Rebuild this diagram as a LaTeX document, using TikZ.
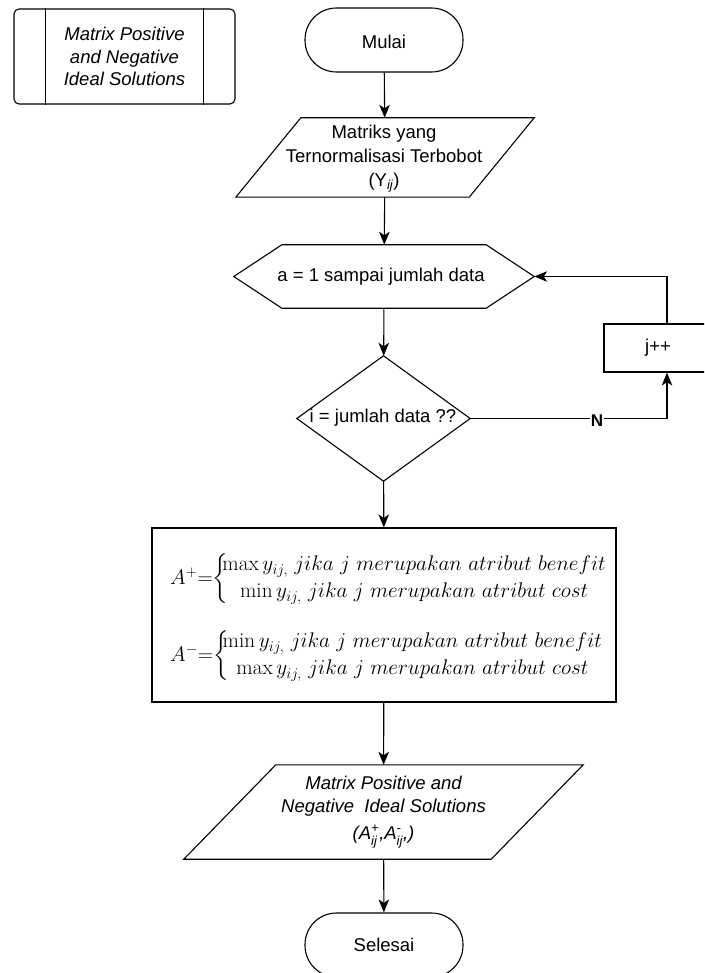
\RequirePackage{fix-cm}
\documentclass[tikz,border=0pt]{standalone}
\usepackage{amsmath}
\usepackage{fontspec}
\newfontfamily\lsans{Liberation Sans}
\usetikzlibrary{arrows.meta}
\begin{document}
\begin{tikzpicture}[x=1pt,y=-1pt,
  txt/.style={font=\lsans\fontsize{18.5pt}{24pt}\selectfont, align=center, inner sep=0pt, text=black},
  itxt/.style={font=\lsans\itshape\fontsize{18.5pt}{22.5pt}\selectfont, align=center, inner sep=0pt, text=black},
  shp/.style={line width=1.1pt, draw=black},
  arr/.style={line width=1.1pt, draw=black, -{Stealth[length=13pt,width=10.5pt,inset=3.5pt]}},
  mth/.style={inner sep=0pt, anchor=west, font=\fontsize{21.2pt}{24pt}\selectfont}
]
\clip (0,0) rectangle (704,973);
\fill[white] (0,0) rectangle (704,973);
\renewcommand\arraystretch{1.12}

% predefined process box (legend)
\node[shp, itxt, rounded corners=5pt, minimum width=221pt, minimum height=95pt] (sub) at (124.5,56.5) {Matrix Positive\\and Negative\\Ideal Solutions};
\draw[shp] ([xshift=32pt]sub.north west) -- ([xshift=32pt]sub.south west);
\draw[shp] ([xshift=-32pt]sub.north east) -- ([xshift=-32pt]sub.south east);

% start
\node[shp, txt, rounded corners=31.5pt, minimum width=158pt, minimum height=64pt] (start) at (384,40) {};
\node[txt] (startlbl) at (384,41.5) {Mulai};

% input parallelogram
\node[txt, minimum width=298pt, minimum height=79pt] (in1) at (385,157.5) {};
\node[txt] (in1lbl) at (384,159) {Matriks yang\\Ternormalisasi Terbobot\\(Y$_{\textit{ij}}$)};
\draw[shp] ([xshift=65pt]in1.north west) -- (in1.north east) -- ([xshift=-65pt]in1.south east) -- (in1.south west) -- cycle;

% loop hexagon
\node[txt, minimum width=300pt, minimum height=63pt] (hex) at (384,276.5) {};
\node[txt] (hexlbl) at (381,277) {a = 1 sampai jumlah data};
\draw[shp] (hex.west) -- ([xshift=48pt]hex.north west) -- ([xshift=-48pt]hex.north east) -- (hex.east) -- ([xshift=-48pt]hex.south east) -- ([xshift=48pt]hex.south west) -- cycle;

% decision diamond
\node[txt, minimum width=173pt, minimum height=125pt] (dec) at (383.5,418.5) {};
\draw[shp] (dec.north) -- (dec.east) -- (dec.south) -- (dec.west) -- cycle;
\node[txt] (declbl) at (383,418) {i = jumlah data ??};

% increment box
\node[shp, txt, minimum width=126pt, minimum height=48pt] (inc) at (667,348) {};
\node[txt] (inclbl) at (658,348) {j++};

% calculation box
\node[shp, txt, minimum width=464pt, minimum height=174pt] (calc) at (384,615) {};
\node[mth] (fplus) at (170,579) {$A^{+}{=}\mspace{-3mu}\left\{\mspace{-5mu}\begin{array}{@{}c@{}}\max y_{ij,}\ jika\ j\ merupakan\ atribut\ benefit\\ \min y_{ij,}\ jika\ j\ merupakan\ atribut\ cost\end{array}\right.$};
\node[mth] (fminus) at (170,656) {$A^{-}{=}\mspace{-3mu}\left\{\mspace{-5mu}\begin{array}{@{}c@{}}\min y_{ij,}\ jika\ j\ merupakan\ atribut\ benefit\\ \max y_{ij,}\ jika\ j\ merupakan\ atribut\ cost\end{array}\right.$};

% output parallelogram
\node[itxt, minimum width=399pt, minimum height=94pt] (out) at (383.5,812) {Matrix Positive and\\Negative\ \ Ideal Solutions\\[5pt](A$_{\textit{ij}}^{\textit{+}}$,A$_{\textit{ij}}^{\textit{-}}$,)};
\draw[shp] ([xshift=92pt]out.north west) -- (out.north east) -- ([xshift=-92pt]out.south east) -- (out.south west) -- cycle;

% end
\node[shp, txt, rounded corners=31.5pt, minimum width=158pt, minimum height=64pt] (stop) at (384,945) {Selesai};

% connectors
\draw[arr] (start) -- (in1);
\draw[arr] (in1) -- (hex);
\draw[arr] (hex) -- (dec);
\draw[arr] (dec) -- (calc);
\draw[arr] (calc) -- (out);
\draw[arr] (out) -- (stop);
\draw[arr] (dec.east) -| (inc.south);
\draw[arr] (inc.north) |- (hex.east);
\node[txt, font=\lsans\bfseries\fontsize{17pt}{20pt}\selectfont, fill=white, inner sep=1pt] (nlab) at (597,421) {N};
\end{tikzpicture}
\end{document}
